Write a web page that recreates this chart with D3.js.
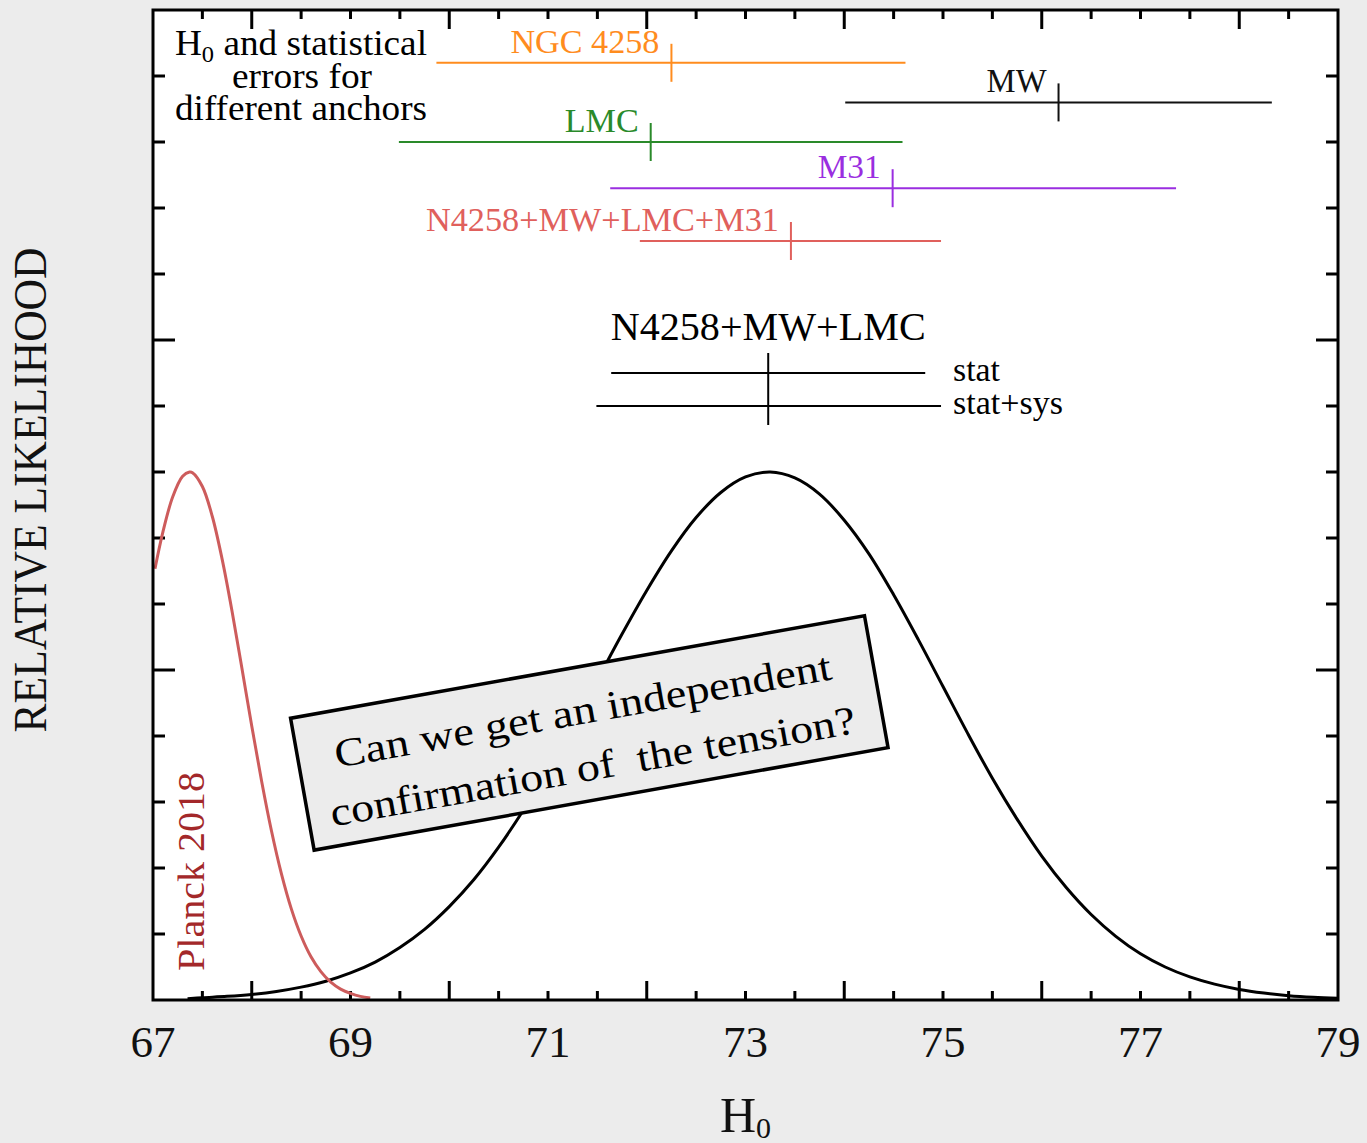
<!DOCTYPE html>
<html><head><meta charset="utf-8">
<script src="https://cdn.jsdelivr.net/npm/d3@7"></script>
<style>
html,body{margin:0;padding:0;background:#ececec;}
svg{display:block;font-family:"Liberation Serif","Times New Roman",serif;}
</style></head>
<body><svg id="chart" width="1367" height="1143"></svg>
<script>
// ---- data ----
const xTickLabels = [67, 69, 71, 73, 75, 77, 79];

// SH0ES-like likelihood (black), sampled
const shoesH0 = [67.35,67.5,67.75,68.0,68.25,68.5,68.75,69.0,69.25,69.5,69.75,70.0,70.25,70.5,70.75,71.0,71.25,71.5,71.75,72.0,72.25,72.5,72.75,73.0,73.25,73.5,73.75,74.0,74.25,74.5,74.75,75.0,75.25,75.5,75.75,76.0,76.25,76.5,76.75,77.0,77.25,77.5,77.75,78.0,78.25,78.5,78.75,79.0];
const shoesL  = [0.004,0.007,0.011,0.017,0.026,0.039,0.057,0.082,0.115,0.159,0.214,0.283,0.365,0.463,0.575,0.699,0.832,0.970,1.109,1.241,1.361,1.462,1.538,1.585,1.600,1.582,1.533,1.454,1.352,1.228,1.092,0.950,0.808,0.672,0.548,0.436,0.340,0.259,0.193,0.140,0.100,0.070,0.048,0.032,0.021,0.013,0.008,0.005];

// Planck 2018 likelihood (red), sampled
const planckH0 = [67.02,67.1,67.2,67.3,67.37,67.4,67.5,67.6,67.7,67.8,67.9,68.0,68.1,68.2,68.3,68.4,68.5,68.6,68.7,68.8,68.9,69.0,69.1,69.2];
const planckL  = [1.307,1.418,1.525,1.587,1.600,1.598,1.556,1.466,1.336,1.179,1.006,0.830,0.663,0.512,0.383,0.277,0.194,0.131,0.086,0.054,0.033,0.020,0.011,0.006];

// individual anchors
const anchorNames = ["NGC 4258", "MW", "LMC", "M31", "N4258+MW+LMC+M31"];
const anchorH0    = [72.25, 76.17, 72.04, 74.49, 73.46];
const anchorLow   = [69.87, 74.01, 69.49, 71.63, 71.93];
const anchorHigh  = [74.62, 78.33, 74.59, 77.36, 74.98];
const anchorLevel = [2.84, 2.72, 2.60, 2.46, 2.30];
const anchorColors = ["#ff8c1e", "#111111", "#2a8a2a", "#9a2ee0", "#e0605c"];
const anchorLabelWidths = [149, 60, 74, 63, 353];

// combined N4258+MW+LMC
const comboName = "N4258+MW+LMC";
const comboH0 = 73.23;
const comboErrNames = ["stat", "stat+sys"];
const comboLow  = [71.64, 71.49];
const comboHigh = [74.82, 74.98];
const comboLevel = [1.9, 1.8];
const comboLabelWidths = [47, 110];

// ---- layout ----
const svg = d3.select("#chart");
const L = 153, R = 1338, T = 10, B = 1000;
const x = d3.scaleLinear().domain([67, 79]).range([L, R]);
const y = d3.scaleLinear().domain([0, 3]).range([B, T]);

svg.append("rect").attr("x", L).attr("y", T).attr("width", R - L).attr("height", B - T).attr("fill", "#fff");

// ticks
const xMajor = d3.range(68, 79, 2);
const xMinor = d3.range(67.5, 79, 0.5).filter(v => Math.abs(v % 2) !== 0);
const yMajor = [1, 2];
const yMinor = d3.range(0.2, 3, 0.2).filter(v => Math.abs(v - 1) > 1e-6 && Math.abs(v - 2) > 1e-6);
const tk = svg.append("g").attr("stroke", "#000").attr("stroke-width", 3);
function xt(vals, len) {
  vals.forEach(v => {
    tk.append("line").attr("x1", x(v)).attr("x2", x(v)).attr("y1", B).attr("y2", B - len);
    tk.append("line").attr("x1", x(v)).attr("x2", x(v)).attr("y1", T).attr("y2", T + len);
  });
}
function yt(vals, len) {
  vals.forEach(v => {
    tk.append("line").attr("y1", y(v)).attr("y2", y(v)).attr("x1", L).attr("x2", L + len);
    tk.append("line").attr("y1", y(v)).attr("y2", y(v)).attr("x1", R).attr("x2", R - len);
  });
}
xt(xMajor, 19); xt(xMinor, 9);
yt(yMajor, 22); yt(yMinor, 12);

// curves
const line = d3.line().x(d => x(d[0])).y(d => y(d[1])).curve(d3.curveCatmullRom.alpha(0.5));
svg.append("path").datum(shoesH0.map((h, i) => [h, shoesL[i]]))
  .attr("d", line).attr("fill", "none").attr("stroke", "#000").attr("stroke-width", 3);
svg.append("path").datum(planckH0.map((h, i) => [h, planckL[i]]))
  .attr("d", line).attr("fill", "none").attr("stroke", "#cd5c5c").attr("stroke-width", 3);

// frame
svg.append("rect").attr("x", L).attr("y", T).attr("width", R - L).attr("height", B - T)
  .attr("fill", "none").attr("stroke", "#000").attr("stroke-width", 3);

// anchor error bars
const eb = svg.append("g");
anchorNames.forEach((n, i) => {
  const c = anchorColors[i], yy = y(anchorLevel[i]);
  eb.append("line").attr("x1", x(anchorLow[i])).attr("x2", x(anchorHigh[i])).attr("y1", yy).attr("y2", yy)
    .attr("stroke", c).attr("stroke-width", 2);
  eb.append("line").attr("x1", x(anchorH0[i])).attr("x2", x(anchorH0[i])).attr("y1", yy - 19).attr("y2", yy + 19)
    .attr("stroke", c).attr("stroke-width", 2);
  eb.append("text").attr("x", x(anchorH0[i]) - 12).attr("y", yy - 10).attr("text-anchor", "end")
    .attr("font-size", 34).attr("fill", c)
    .attr("textLength", anchorLabelWidths[i]).attr("lengthAdjust", "spacingAndGlyphs").text(n);
});

// combined
comboErrNames.forEach((n, i) => {
  const yy = y(comboLevel[i]);
  eb.append("line").attr("x1", x(comboLow[i])).attr("x2", x(comboHigh[i])).attr("y1", yy).attr("y2", yy)
    .attr("stroke", "#000").attr("stroke-width", 2);
  eb.append("text").attr("x", x(comboHigh[comboHigh.length - 1]) + 12).attr("y", yy + 8)
    .attr("font-size", 34).attr("fill", "#000")
    .attr("textLength", comboLabelWidths[i]).attr("lengthAdjust", "spacingAndGlyphs").text(n);
});
eb.append("line").attr("x1", x(comboH0)).attr("x2", x(comboH0))
  .attr("y1", y(comboLevel[0]) - 20).attr("y2", y(comboLevel[1]) + 19)
  .attr("stroke", "#000").attr("stroke-width", 2);
eb.append("text").attr("x", x(comboH0)).attr("y", y(comboLevel[0]) - 33).attr("text-anchor", "middle")
  .attr("font-size", 40).attr("textLength", 315).attr("lengthAdjust", "spacingAndGlyphs").text(comboName);

// top-left title
const tt = svg.append("g").attr("font-size", 35).attr("fill", "#000");
const t1 = tt.append("text").attr("x", 175).attr("y", 55).attr("textLength", 252).attr("lengthAdjust", "spacingAndGlyphs");
t1.append("tspan").text("H");
t1.append("tspan").attr("font-size", 23).attr("dy", 7).text("0");
t1.append("tspan").attr("dy", -7).text(" and statistical");
tt.append("text").attr("x", 232).attr("y", 88).attr("textLength", 140).attr("lengthAdjust", "spacingAndGlyphs").text("errors for");
tt.append("text").attr("x", 175).attr("y", 120).attr("textLength", 252).attr("lengthAdjust", "spacingAndGlyphs").text("different anchors");

// Planck label
svg.append("text").attr("transform", `translate(204,971) rotate(-90)`)
  .attr("font-size", 38).attr("fill", "#a3282a").attr("textLength", 199).attr("lengthAdjust", "spacingAndGlyphs")
  .text("Planck 2018");

// annotation box
const bx = svg.append("g").attr("transform", "translate(589,734) rotate(-10.13)");
bx.append("rect").attr("x", -291).attr("y", -68).attr("width", 583).attr("height", 134)
  .attr("fill", "#ececec").attr("stroke", "#000").attr("stroke-width", 3.5);
bx.append("text").attr("x", -2).attr("y", -11).attr("text-anchor", "middle").attr("font-size", 40)
  .attr("textLength", 504).attr("lengthAdjust", "spacingAndGlyphs").text("Can we get an independent");
bx.append("text").attr("x", -2).attr("y", 46).attr("text-anchor", "middle").attr("font-size", 40)
  .style("white-space", "pre")
  .attr("textLength", 533).attr("lengthAdjust", "spacingAndGlyphs").text("confirmation of  the tension?");

// x tick labels
svg.append("g").selectAll("text").data(xTickLabels).join("text")
  .attr("x", d => x(d)).attr("y", 1057).attr("text-anchor", "middle").attr("font-size", 45)
  .attr("fill", "#111").text(d => d);

// axis titles
const xl = svg.append("text").attr("x", 720).attr("y", 1132).attr("font-size", 50).attr("fill", "#111");
xl.append("tspan").text("H");
xl.append("tspan").attr("font-size", 30).attr("dy", 6).text("0");

svg.append("text").attr("transform", "translate(46,490) rotate(-90)").attr("text-anchor", "middle")
  .attr("font-size", 46).attr("fill", "#111").attr("textLength", 485).attr("lengthAdjust", "spacingAndGlyphs")
  .text("RELATIVE LIKELIHOOD");
</script></body></html>
